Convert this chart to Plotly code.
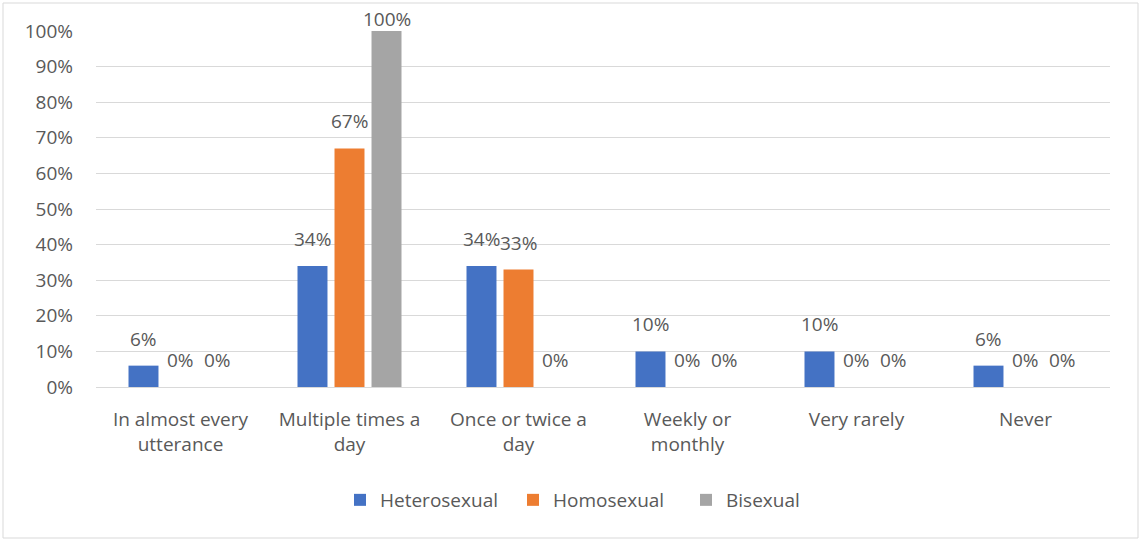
import plotly.graph_objects as go

categories = ["In almost every<br>utterance", "Multiple times a<br>day", "Once or twice a<br>day",
              "Weekly or<br>monthly", "Very rarely", "Never"]
heterosexual = [0.06, 0.34, 0.34, 0.10, 0.10, 0.06]
homosexual = [0.0, 0.67, 0.33, 0.0, 0.0, 0.0]
bisexual = [0.0, 1.00, 0.0, 0.0, 0.0, 0.0]
series_names = ["Heterosexual", "Homosexual", "Bisexual"]
colors = ["#4472C4", "#ED7D31", "#A5A5A5"]

FONT = "Open Sans"
FS = 19
TXT = "#595959"

L, R, T, B = 96, 31, 31, 154
W, H = 1141, 541
pw, ph = W - L - R, H - T - B
BARGAP, GROUPGAP = 0.343, 0.19
n_series = 3
pitch = (1 - BARGAP) * pw / len(categories) / n_series

fig = go.Figure()
annotations = []
for k, (name, vals, col) in enumerate(zip(series_names, [heterosexual, homosexual, bisexual], colors)):
    fig.add_trace(go.Bar(x=categories, y=vals, name=name, marker_color=col, marker_line_width=0))
    for cat, v in zip(categories, vals):
        room = (1 - v) * ph - 3
        annotations.append(dict(
            x=cat, y=v, xref="x", yref="y", text=f"{v:.0%}", showarrow=False,
            xanchor="center", yanchor="bottom",
            xshift=(k - (n_series - 1) / 2) * pitch, yshift=min(12, room),
            font=dict(family=FONT, size=FS, color=TXT),
        ))

fig.update_layout(
    width=W, height=H,
    margin=dict(l=L, r=R, t=T, b=B),
    paper_bgcolor="white", plot_bgcolor="white",
    barmode="group", bargap=BARGAP, bargroupgap=GROUPGAP,
    font=dict(family=FONT, size=FS, color=TXT),
    showlegend=True,
    legend=dict(orientation="h", x=(340 - L) / pw, xanchor="left", y=(387 - 500) / ph, yanchor="middle",
                font=dict(family=FONT, size=FS, color=TXT), itemwidth=30, traceorder="normal",
                entrywidth=128, entrywidthmode="pixels"),
    xaxis=dict(showgrid=False, showline=False, ticks="", ticklabelstandoff=19,
               tickfont=dict(family=FONT, size=FS, color=TXT)),
    yaxis=dict(range=[0, 1], dtick=0.1, tickformat=".0%", showgrid=True, gridcolor="#D9D9D9",
               gridwidth=1, zeroline=True, zerolinecolor="#D9D9D9", zerolinewidth=1,
               showline=False, ticks="", ticklabelstandoff=22,
               tickfont=dict(family=FONT, size=FS, color=TXT)),
    annotations=annotations,
    shapes=[dict(type="rect", xref="paper", yref="paper",
                 x0=(3 - L) / pw, x1=(1138 - L) / pw,
                 y0=(387 - 538) / ph, y1=(387 - 3) / ph,
                 line=dict(color="#D9D9D9", width=1), fillcolor="rgba(0,0,0,0)", layer="below")],
)

fig.write_html("out.html", config={"displayModeBar": False},
               post_script="document.body.style.margin='0';")
